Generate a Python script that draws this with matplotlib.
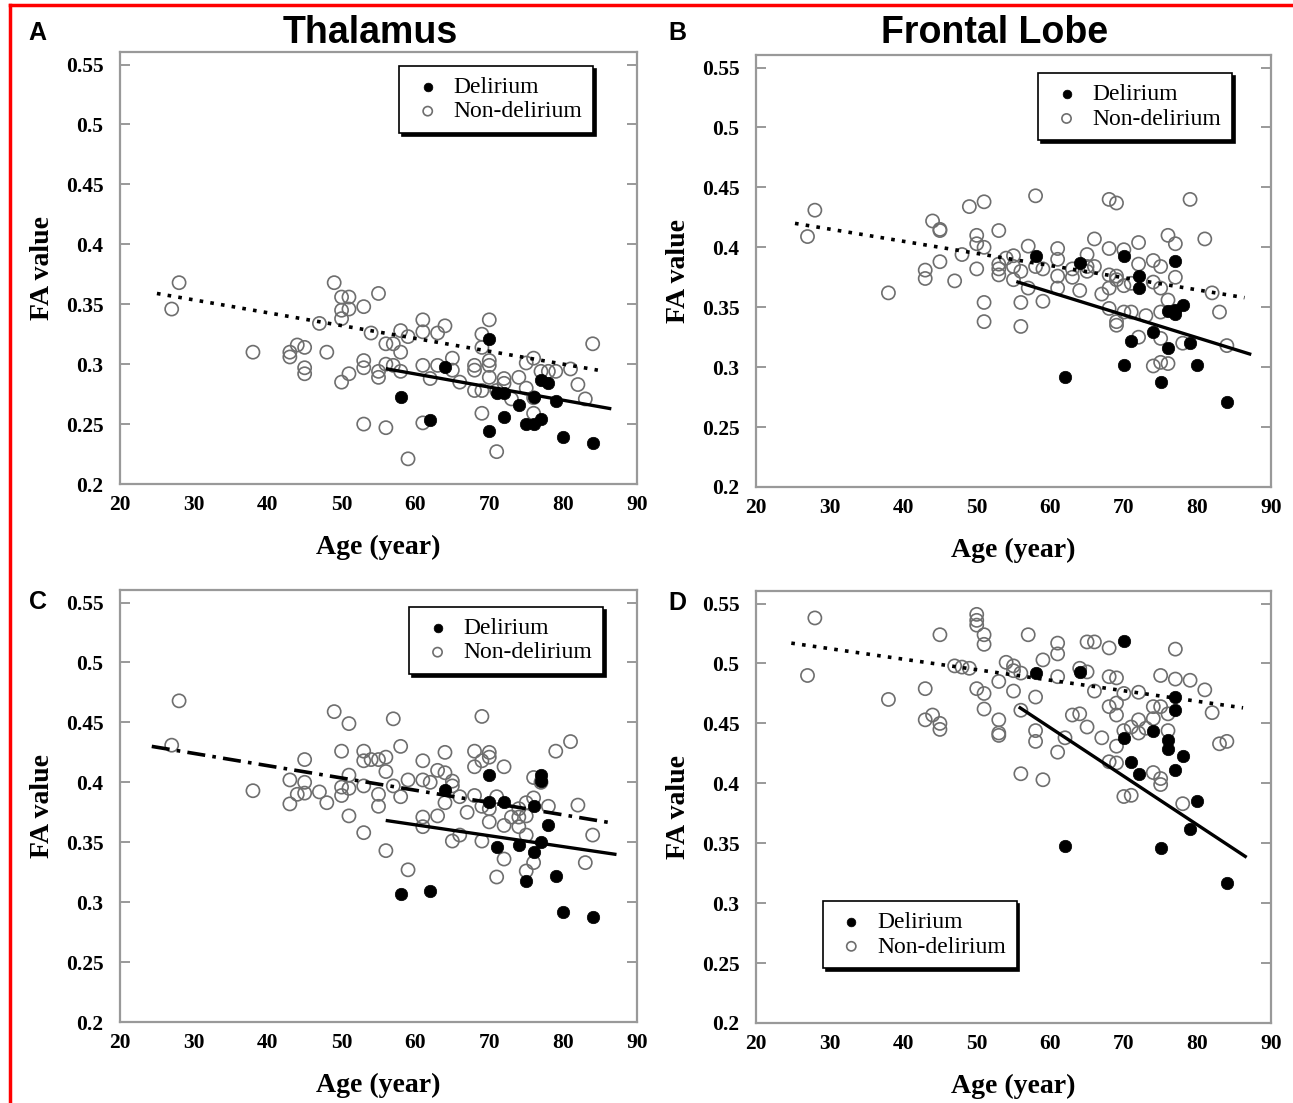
import matplotlib
matplotlib.use('Agg')
import matplotlib.pyplot as plt
from matplotlib.lines import Line2D

plt.rcParams['font.family'] = 'Liberation Serif'

# ---- Panel A: Thalamus (FA) ----
a_del_age = [70, 64, 58, 62, 71, 72, 74, 76, 77, 78, 79, 72, 70, 75, 76, 77, 80, 84]
a_del_fa = [0.321, 0.298, 0.273, 0.253, 0.276, 0.276, 0.266, 0.273, 0.287, 0.284, 0.269,
            0.256, 0.244, 0.250, 0.250, 0.254, 0.239, 0.234]
a_non_age = [28, 27, 38, 43, 43, 44, 45, 45, 45, 48, 47, 49, 50, 51, 50, 51, 50, 53, 55, 51,
             50, 53, 53, 55, 55, 53, 56, 54, 56, 57, 58, 58, 59, 56, 57, 58, 59, 61, 61, 63,
             64, 61, 62, 63, 61, 65, 65, 66, 68, 68, 68, 70, 69, 69, 70, 70, 70, 69, 71, 72,
             72, 73, 74, 75, 76, 75, 76, 77, 78, 79, 81, 82, 83, 84, 76, 69, 71]
a_non_fa = [0.368, 0.346, 0.310, 0.310, 0.306, 0.316, 0.314, 0.297, 0.292, 0.310, 0.334,
            0.368, 0.356, 0.356, 0.345, 0.346, 0.338, 0.348, 0.359, 0.292, 0.285, 0.303,
            0.297, 0.294, 0.289, 0.250, 0.247, 0.326, 0.317, 0.317, 0.328, 0.310, 0.323,
            0.300, 0.299, 0.294, 0.221, 0.337, 0.327, 0.326, 0.332, 0.299, 0.288, 0.299,
            0.251, 0.305, 0.295, 0.285, 0.299, 0.295, 0.278, 0.337, 0.325, 0.314, 0.303,
            0.299, 0.289, 0.259, 0.227, 0.288, 0.284, 0.271, 0.289, 0.301, 0.305, 0.280,
            0.259, 0.294, 0.294, 0.294, 0.296, 0.283, 0.271, 0.317, 0.272, 0.278, 0.278]
a_fit_del = ([56.2, 86.3], [0.296, 0.263])
a_fit_non = ([25.0, 84.7], [0.359, 0.295])

# ---- Panel B: Frontal Lobe (FA) ----
b_del_age = [58, 64, 70, 77, 72, 72, 76, 77, 78, 77, 74, 71, 76, 79, 70, 80, 62, 75, 84]
b_del_fa = [0.393, 0.387, 0.393, 0.389, 0.376, 0.366, 0.347, 0.344, 0.352, 0.348, 0.329,
            0.322, 0.316, 0.320, 0.302, 0.302, 0.292, 0.288, 0.271]
b_non_age = [28, 27, 38, 43, 43, 45, 44, 45, 45, 47, 48, 49, 51, 50, 50, 51, 50, 51, 51, 53,
             53, 53, 53, 54, 55, 55, 55, 56, 56, 56, 57, 58, 58, 59, 59, 57, 61, 61, 61, 61,
             63, 63, 64, 65, 65, 65, 66, 66, 67, 68, 69, 68, 68, 68, 68, 69, 69, 69, 70, 70,
             70, 71, 72, 72, 73, 72, 74, 74, 75, 75, 75, 75, 74, 75, 76, 76, 77, 77, 76, 78,
             79, 81, 82, 83, 84, 71, 69]
b_non_fa = [0.431, 0.409, 0.362, 0.381, 0.374, 0.388, 0.422, 0.415, 0.414, 0.372, 0.394,
            0.434, 0.438, 0.410, 0.403, 0.400, 0.382, 0.354, 0.338, 0.414, 0.386, 0.382,
            0.377, 0.391, 0.393, 0.384, 0.373, 0.380, 0.354, 0.334, 0.401, 0.443, 0.384,
            0.382, 0.355, 0.366, 0.399, 0.390, 0.376, 0.366, 0.382, 0.375, 0.364, 0.394,
            0.384, 0.380, 0.407, 0.384, 0.361, 0.440, 0.437, 0.399, 0.377, 0.366, 0.349,
            0.376, 0.338, 0.335, 0.398, 0.368, 0.346, 0.346, 0.404, 0.386, 0.343, 0.325,
            0.389, 0.371, 0.384, 0.366, 0.346, 0.324, 0.301, 0.304, 0.303, 0.410, 0.403,
            0.375, 0.356, 0.320, 0.440, 0.407, 0.362, 0.346, 0.318, 0.370, 0.373]
b_fit_del = ([55.6, 87.1], [0.371, 0.311])
b_fit_non = ([25.3, 86.4], [0.420, 0.358])

# ---- Panel C: Thalamus (second measure) ----
c_del_age = [70, 77, 77, 64, 70, 72, 76, 78, 77, 71, 74, 76, 75, 79, 58, 62, 80, 84]
c_del_fa = [0.406, 0.406, 0.401, 0.394, 0.384, 0.384, 0.380, 0.364, 0.350, 0.346, 0.348,
            0.342, 0.318, 0.322, 0.307, 0.309, 0.292, 0.288]
c_non_age = [28, 27, 38, 43, 43, 44, 45, 45, 45, 47, 48, 49, 51, 50, 50, 50, 51, 51, 51, 53,
             53, 54, 55, 56, 53, 53, 55, 55, 56, 57, 58, 57, 58, 56, 59, 59, 61, 61, 61, 61,
             62, 63, 64, 64, 63, 64, 65, 65, 66, 67, 65, 66, 68, 68, 69, 69, 70, 70, 68, 69,
             70, 71, 70, 69, 72, 72, 72, 71, 73, 74, 74, 75, 75, 75, 75, 76, 76, 76, 77, 78,
             79, 81, 82, 83, 84, 74]
c_non_fa = [0.468, 0.431, 0.393, 0.402, 0.382, 0.390, 0.419, 0.400, 0.391, 0.392, 0.383,
            0.459, 0.449, 0.426, 0.396, 0.389, 0.406, 0.395, 0.372, 0.426, 0.418, 0.419,
            0.419, 0.421, 0.397, 0.358, 0.390, 0.380, 0.409, 0.453, 0.430, 0.397, 0.388,
            0.343, 0.402, 0.327, 0.418, 0.402, 0.371, 0.363, 0.400, 0.410, 0.425, 0.408,
            0.372, 0.383, 0.401, 0.397, 0.388, 0.375, 0.351, 0.356, 0.426, 0.413, 0.455,
            0.418, 0.425, 0.421, 0.389, 0.380, 0.378, 0.388, 0.367, 0.351, 0.413, 0.364,
            0.336, 0.321, 0.371, 0.378, 0.363, 0.383, 0.372, 0.356, 0.326, 0.387, 0.404,
            0.333, 0.400, 0.380, 0.426, 0.434, 0.381, 0.333, 0.356, 0.371]
c_fit_del = ([56.2, 87.0], [0.368, 0.340])
c_fit_non = ([24.3, 86.7], [0.430, 0.366])

# ---- Panel D: Frontal Lobe (second measure) ----
d_del_age = [70, 58, 64, 77, 77, 74, 76, 76, 78, 70, 71, 72, 77, 80, 79, 62, 75, 84]
d_del_fa = [0.519, 0.492, 0.493, 0.472, 0.461, 0.444, 0.436, 0.429, 0.423, 0.438, 0.418,
            0.408, 0.411, 0.385, 0.362, 0.348, 0.346, 0.317]
d_non_age = [28, 27, 38, 43, 43, 44, 45, 45, 45, 47, 48, 49, 50, 50, 50, 51, 51, 50, 51, 51,
             53, 53, 53, 53, 54, 55, 55, 55, 56, 56, 56, 57, 58, 58, 58, 59, 59, 61, 61, 61,
             61, 62, 63, 64, 64, 65, 66, 65, 66, 65, 67, 68, 68, 69, 68, 69, 69, 69, 68, 69,
             70, 70, 70, 71, 71, 72, 72, 72, 74, 74, 75, 75, 74, 75, 75, 76, 76, 77, 77, 78,
             79, 81, 82, 83, 84, 73]
d_non_fa = [0.538, 0.490, 0.470, 0.479, 0.453, 0.457, 0.450, 0.445, 0.524, 0.498, 0.497,
            0.496, 0.541, 0.536, 0.532, 0.524, 0.516, 0.479, 0.475, 0.462, 0.485, 0.453,
            0.442, 0.440, 0.501, 0.498, 0.494, 0.477, 0.492, 0.461, 0.408, 0.524, 0.472,
            0.444, 0.435, 0.503, 0.403, 0.517, 0.508, 0.489, 0.426, 0.438, 0.457, 0.458,
            0.496, 0.518, 0.518, 0.493, 0.477, 0.447, 0.438, 0.513, 0.489, 0.488, 0.464,
            0.467, 0.457, 0.431, 0.418, 0.417, 0.475, 0.444, 0.389, 0.390, 0.447, 0.476,
            0.453, 0.442, 0.464, 0.454, 0.490, 0.464, 0.409, 0.404, 0.399, 0.458, 0.444,
            0.512, 0.487, 0.383, 0.486, 0.478, 0.459, 0.433, 0.435, 0.446]
d_fit_del = ([55.9, 86.5], [0.463, 0.339])
d_fit_non = ([24.8, 86.2], [0.517, 0.463])

panels = [
    ('A', 'Thalamus', a_del_age, a_del_fa, a_non_age, a_non_fa, a_fit_del, a_fit_non),
    ('B', 'Frontal Lobe', b_del_age, b_del_fa, b_non_age, b_non_fa, b_fit_del, b_fit_non),
    ('C', None, c_del_age, c_del_fa, c_non_age, c_non_fa, c_fit_del, c_fit_non),
    ('D', None, d_del_age, d_del_fa, d_non_age, d_non_fa, d_fit_del, d_fit_non),
]

W, H = 1293, 1103
fig = plt.figure(figsize=(W / 100, H / 100), dpi=100)

# axes rectangles in pixels: left, top, width, height
rects = {'A': (120, 52, 517, 432), 'B': (756, 55, 515, 432),
         'C': (120, 590, 517, 432), 'D': (756, 591, 515, 432)}
legend_pos = {'A': ('upper right', (0.915, 0.968)), 'B': ('upper right', (0.924, 0.958)),
              'C': ('upper right', (0.934, 0.961)), 'D': ('lower left', (0.130, 0.127))}
nondel_style = {'A': (0, (1, 2)), 'B': (0, (1, 2)), 'C': (0, (5, 2, 1, 2)), 'D': (0, (1, 2))}
title_x = {'A': 370, 'B': 995}
letter_pos = {'A': (37, 33), 'B': (677, 33), 'C': (38, 602), 'D': (677, 603)}

for letter, title, del_age, del_fa, non_age, non_fa, fit_del, fit_non in panels:
    l, t, w, h = rects[letter]
    ax = fig.add_axes([l / W, 1 - (t + h) / H, w / W, h / H])

    ax.scatter(del_age, del_fa, s=80, c='black', edgecolors='black', linewidths=0.5,
               zorder=3, label='Delirium')
    ax.scatter(non_age, non_fa, s=90, facecolors='none', edgecolors='#6e6e6e',
               linewidths=1.2, zorder=2, label='Non-delirium')
    ax.plot(fit_non[0], fit_non[1], color='black', lw=2.6, linestyle=nondel_style[letter],
            zorder=4)
    ax.plot(fit_del[0], fit_del[1], color='black', lw=2.4, zorder=4)

    ax.set_xlim(20, 90)
    ax.set_ylim(0.2, 0.5605)
    ax.set_xticks([20, 30, 40, 50, 60, 70, 80, 90])
    ax.set_yticks([0.2, 0.25, 0.3, 0.35, 0.4, 0.45, 0.5, 0.55])
    ax.set_yticklabels(['0.2', '0.25', '0.3', '0.35', '0.4', '0.45', '0.5', '0.55'])
    ax.tick_params(axis='y', direction='in', length=7, width=1.2, color='#888888',
                   right=True, labelsize=15.5, pad=12)
    ax.tick_params(axis='x', length=0, labelsize=15.5, pad=8)
    for lab in ax.get_xticklabels() + ax.get_yticklabels():
        lab.set_fontweight('bold')
    for sp in ax.spines.values():
        sp.set_color('#999999')
        sp.set_linewidth(1.6)

    ax.set_xlabel('Age (year)', fontsize=20, fontweight='bold', labelpad=14)
    ax.set_ylabel('FA value', fontsize=20, fontweight='bold', labelpad=8)

    loc, anchor = legend_pos[letter]
    leg = ax.legend(loc=loc, bbox_to_anchor=anchor, borderaxespad=0, fontsize=17,
                    markerscale=0.7, handlelength=1.5, handletextpad=0.35,
                    labelspacing=0.12, borderpad=0.45, fancybox=False,
                    shadow={'color': 'black', 'alpha': 1}, framealpha=1)
    leg.get_frame().set_edgecolor('black')
    leg.get_frame().set_linewidth(1.2)

    if title:
        fig.text(title_x[letter] / W, 1 - 33 / H, title, fontsize=27, fontweight='bold',
                 family='Liberation Sans', ha='center', va='center')
    lx, ly = letter_pos[letter]
    fig.text(lx / W, 1 - ly / H, letter, fontsize=18, fontweight='bold',
             family='Liberation Sans', ha='center', va='center')

# red frame on top and left edges
fig.add_artist(Line2D([10 / W, 1], [1 - 5 / H, 1 - 5 / H], color='red', lw=2.5,
                      transform=fig.transFigure))
fig.add_artist(Line2D([10 / W, 10 / W], [1 - 5 / H, 0], color='red', lw=2.5,
                      transform=fig.transFigure))

fig.savefig('out.png', dpi=100)
